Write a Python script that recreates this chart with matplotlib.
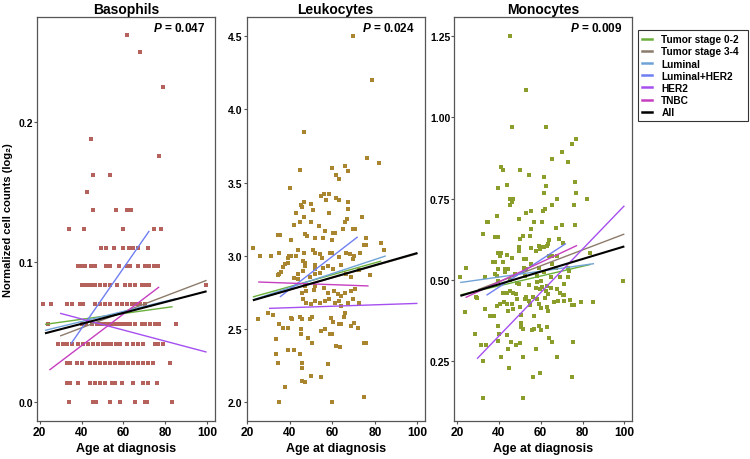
import numpy as np
import matplotlib
matplotlib.use('Agg')
import matplotlib.pyplot as plt

plt.rcParams['font.family'] = ['Liberation Sans', 'DejaVu Sans']
plt.rcParams['font.weight'] = 'bold'
plt.rcParams['mathtext.fontset'] = 'custom'
plt.rcParams['mathtext.it'] = 'Liberation Sans:italic:bold'
plt.rcParams['mathtext.rm'] = 'Liberation Sans:bold'

# ---- Basophils (discrete levels, ages per level) ----
baso_levels = [0.262, 0.250, 0.225, 0.188, 0.176, 0.162, 0.150, 0.137, 0.124,
               0.110, 0.097, 0.084, 0.070, 0.056, 0.042, 0.028, 0.014, 0.0]
baso_ages = [
    [61.5],
    [67.9],
    [79.0],
    [44.4],
    [77.0],
    [45.6, 53.6],
    [42.5],
    [45.5, 56.6, 61.5, 63.7],
    [34.2, 41.3, 59.6, 74.6, 77.7],
    [49.3, 51.7, 55.5, 59.6, 62.8, 64.7, 66.8, 71.8],
    [38.5, 40.1, 41.7, 44.5, 46.4, 51.7, 53.6, 58.0, 61.5, 63.1, 67.0, 70.2,
     72.3, 74.5, 76.6],
    [40.1, 41.7, 43.2, 44.9, 46.4, 48.8, 51.2, 53.6, 56.8, 60.7, 63.1, 65.5,
     68.7, 70.2, 72.3, 99.3],
    [21.8, 25.3, 33.2, 35.3, 39.3, 40.9, 46.4, 48.8, 51.2, 53.6, 57.0, 59.1,
     61.5, 63.9, 66.0, 67.9, 70.2],
    [24.2, 40.0, 42.0, 44.9, 47.2, 48.6, 50.0, 51.5, 53.0, 54.5, 56.0, 57.5,
     59.0, 60.5, 61.5, 63.1, 65.5, 68.7, 70.2, 72.6, 75.0, 77.0, 85.0],
    [29.0, 31.3, 33.0, 35.3, 38.5, 40.9, 43.2, 45.6, 48.0, 50.4, 52.3, 54.2,
     56.3, 58.3, 61.5, 64.4, 67.1, 69.4, 75.0, 76.6, 79.0],
    [33.0, 34.5, 37.7, 40.1, 44.0, 46.4, 48.8, 51.2, 53.6, 56.0, 58.3, 60.0,
     62.3, 64.7, 67.1, 69.4, 71.8, 74.2, 82.1],
    [33.0, 34.5, 38.5, 44.0, 46.4, 48.8, 51.2, 54.4, 56.0, 59.1, 64.7, 69.4,
     71.8, 75.8],
    [34.2, 45.6, 46.9, 53.6, 58.3, 65.5, 70.2, 71.3, 82.9],
]

# ---- Leukocytes ----
leuk_age = [69.5, 78.6, 46.6, 76.5, 81.7, 44.8, 59.7, 65.7, 67.5, 61.8, 62.9,
            40.0, 46.6, 45.1, 45.7, 49.8, 42.8, 50.8, 54.8, 56.0, 58.6, 56.8,
            61.8, 62.9, 67.5, 67.5, 58.6, 46.6, 44.6, 41.8, 50.1, 53.6, 66.0,
            66.9, 73.7,
            34.5, 35.3, 40.7, 47.3, 48.0, 51.6, 55.5, 56.5, 60.2, 61.0, 59.7,
            64.9, 69.5, 70.8, 75.8, 82.8, 75.0, 75.8, 22.8, 25.9, 31.1, 35.0,
            38.9, 39.6, 40.7, 42.8, 43.8, 46.6, 46.2, 46.9, 50.8, 51.6, 54.4,
            55.0, 59.1, 59.7, 63.0, 66.4, 68.5, 69.5, 70.3, 73.1, 84.3, 36.8,
            37.6, 39.2, 34.2, 35.0, 35.7, 42.0, 43.8, 43.8, 46.2, 46.9, 49.3,
            51.6, 51.9, 51.9, 54.0, 55.8, 57.8, 60.2, 64.1, 66.4, 68.8, 72.7,
            77.8, 46.9, 45.7, 47.8, 51.2, 52.0, 56.0, 57.9, 60.7, 62.5, 64.1,
            66.1, 68.8, 70.8, 46.2, 47.8, 50.1, 51.6, 54.0, 56.3, 58.6, 61.0,
            63.3, 64.1, 67.2, 69.5, 72.7,
            25.1, 29.8, 32.2, 35.0, 36.8, 38.9, 40.7, 41.0, 44.6, 45.7, 49.3,
            50.4, 45.1, 45.4, 48.5, 50.6, 54.8, 56.3, 59.4, 60.2, 63.3, 64.1,
            59.1, 59.7, 65.4, 66.1, 68.8, 70.0, 72.2, 75.0, 75.8, 61.8, 63.8,
            33.3, 33.7, 34.5, 38.9, 41.8, 44.6, 45.7, 45.7, 45.7, 46.9, 50.1,
            54.8, 57.9, 37.6, 35.0, 59.7, 74.7]
leuk_val = [4.50, 4.20, 3.842, 3.667, 3.637, 3.587, 3.598, 3.61, 3.576, 3.553,
            3.528, 3.462, 3.368, 3.35, 3.337, 3.352, 3.296, 3.311, 3.409, 3.423,
            3.425, 3.382, 3.393, 3.38, 3.368, 3.323, 3.296, 3.266, 3.234, 3.211,
            3.234, 3.204, 3.232, 3.25, 3.266,
            3.141, 3.141, 3.107, 3.148, 3.136, 3.12, 3.123, 3.168, 3.154, 3.154,
            3.107, 3.186, 3.186, 3.186, 3.125, 3.09, 3.072, 3.072, 3.057, 2.999,
            2.999, 3.018, 2.988, 3.0, 3.0, 3.0, 3.04, 3.018, 2.965, 2.954,
            3.04, 3.023, 3.011, 2.988, 3.018, 3.018, 2.993, 3.023, 3.016, 2.977,
            3.0, 3.023, 3.04, 2.927, 2.947, 2.954, 2.867, 2.879, 2.893, 2.851,
            2.874, 2.845, 2.897, 2.931, 2.856, 2.908, 2.936, 2.874, 2.886, 2.92,
            2.931, 2.908, 2.936, 2.874, 2.859, 2.902, 2.87, 2.795, 2.749, 2.76,
            2.765, 2.795, 2.783, 2.749, 2.76, 2.738, 2.726, 2.749, 2.76, 2.772,
            2.704, 2.681, 2.669, 2.692, 2.681, 2.692, 2.708, 2.676, 2.692, 2.658,
            2.681, 2.704, 2.676,
            2.567, 2.613, 2.594, 2.538, 2.51, 2.51, 2.579, 2.567, 2.585, 2.567,
            2.567, 2.585, 2.499, 2.464, 2.442, 2.408, 2.487, 2.499, 2.579, 2.548,
            2.533, 2.533, 2.464, 2.464, 2.585, 2.613, 2.521, 2.544, 2.51, 2.408,
            2.408, 2.385, 2.38, 2.435, 2.328, 2.271, 2.355, 2.355, 2.328, 2.271,
            2.237, 2.146, 2.139, 2.18, 2.176, 2.264, 2.105, 2.002, 2.002, 2.036]

# ---- Monocytes ----
mono_age = [45.1, 53.2, 46.2, 62.7, 77.0, 75.0, 70.2, 65.6, 72.9, 40.9, 41.8,
            50.3, 54.3, 61.6, 43.8, 39.8, 62.4, 76.2, 61.6, 77.0, 45.4, 47.0,
            45.4, 46.2, 67.8, 82.3, 65.6, 75.8, 53.0, 55.4, 61.1, 62.1, 38.9,
            49.5, 34.1, 34.9, 56.7, 60.5,
            67.2, 70.0, 76.2, 55.6, 32.5, 38.2, 39.8, 50.3, 51.6, 54.8, 64.0,
            63.7, 68.9, 70.5, 60.8, 61.6, 62.9, 59.2, 59.7, 55.4, 57.6, 49.5,
            49.5, 39.8, 40.6, 43.8, 46.2, 37.3, 38.2, 42.2, 52.0, 53.2, 64.0,
            65.6, 67.8, 55.4, 65.6, 67.2, 83.4, 24.4, 39.8, 43.1, 44.6, 52.2,
            53.2, 59.2, 61.6, 72.9, 73.7, 38.2, 39.0, 43.1, 47.9, 52.7, 58.3,
            64.9, 69.4, 72.9, 21.2, 33.3, 99.5, 39.8, 45.4, 48.6, 49.5, 54.3,
            58.3, 60.3, 60.8, 63.2, 64.9, 67.8, 69.4, 70.5, 71.3, 71.3, 42.2,
            43.8, 45.1, 46.7, 48.3, 57.6, 59.7, 62.4, 63.7, 53.2, 56.3, 29.2,
            29.7, 23.6, 33.6, 35.7, 37.8, 38.9, 40.6, 42.7, 43.8, 44.3, 46.2,
            47.0, 48.6, 50.3, 50.8, 50.8, 50.8, 51.4, 52.7, 54.3, 55.1, 56.7,
            58.3, 59.2, 60.0, 62.1, 63.2, 63.7, 66.5, 68.1, 71.0, 74.2, 75.0,
            75.7, 79.4, 85.0, 39.4, 28.4, 31.7, 33.8, 43.8, 40.1, 39.8, 45.9,
            48.3, 50.3, 57.6, 63.2, 64.0, 65.6, 75.3, 55.9, 56.7, 59.2, 60.0,
            44.3, 40.9, 32.5, 51.4, 67.8, 45.0, 59.5, 56.4, 75.0, 32.5, 51.4,
            41.0]
mono_val = [1.251, 1.084, 0.971, 0.971, 0.933, 0.918, 0.894, 0.872, 0.863,
            0.848, 0.839, 0.839, 0.823, 0.815, 0.792, 0.781, 0.789, 0.80, 0.766,
            0.766, 0.748, 0.748, 0.731, 0.738, 0.748, 0.748, 0.731, 0.731,
            0.705, 0.711, 0.711, 0.718, 0.695, 0.687, 0.679, 0.679, 0.679,
            0.679,
            0.659, 0.669, 0.668, 0.656, 0.641, 0.631, 0.631, 0.625, 0.634,
            0.636, 0.623, 0.61, 0.625, 0.615, 0.60, 0.602, 0.605, 0.605, 0.595,
            0.597, 0.589, 0.60, 0.589, 0.584, 0.574, 0.576, 0.566, 0.556, 0.556,
            0.556, 0.564, 0.564, 0.574, 0.574, 0.574, 0.548, 0.548, 0.538,
            0.584, 0.538, 0.535, 0.535, 0.535, 0.538, 0.533, 0.538, 0.523,
            0.538, 0.528, 0.518, 0.512, 0.523, 0.518, 0.512, 0.512, 0.508,
            0.508, 0.508, 0.508, 0.509, 0.497, 0.497, 0.50, 0.492, 0.487, 0.484,
            0.494, 0.497, 0.477, 0.482, 0.474, 0.471, 0.459, 0.453, 0.453,
            0.487, 0.461, 0.461, 0.466, 0.459, 0.456, 0.474, 0.471, 0.466,
            0.458, 0.446, 0.446, 0.446,
            0.443, 0.402, 0.412, 0.389, 0.389, 0.42, 0.425, 0.432, 0.425, 0.405,
            0.425, 0.41, 0.441, 0.418, 0.392, 0.369, 0.354, 0.348, 0.441, 0.436,
            0.422, 0.389, 0.441, 0.425, 0.415, 0.443, 0.418, 0.405, 0.431,
            0.436, 0.436, 0.439, 0.422, 0.422, 0.431, 0.432, 0.359, 0.333,
            0.299, 0.299, 0.33, 0.333, 0.312, 0.309, 0.299, 0.307, 0.287,
            0.354, 0.323, 0.309, 0.309, 0.345, 0.348, 0.357, 0.346, 0.287,
            0.264, 0.251, 0.264, 0.264, 0.228, 0.213, 0.203, 0.203, 0.138,
            0.138, 0.582]

# ---- regression lines: (age start, age end, value start, value end) ----
groups = ['Tumor stage 0-2', 'Tumor stage 3-4', 'Luminal', 'Luminal+HER2',
          'HER2', 'TNBC', 'All']
group_colors = ['#6aaf3a', '#8c7b6a', '#6fa3d8', '#6f7ff2', '#a64ff0',
                '#c63fc0', '#000000']

baso_lines = [(22.6, 83.4, 0.0557, 0.0683), (29.8, 99.6, 0.0474, 0.0871),
              (22.6, 85.0, 0.0514, 0.0740), (35.0, 72.3, 0.0419, 0.1224),
              (29.8, 99.6, 0.0636, 0.0359), (24.7, 77.0, 0.0231, 0.0824),
              (22.6, 99.6, 0.0493, 0.0793)]
leuk_lines = [(22.6, 83.0, 2.720, 2.965), (30.0, 100.0, 2.728, 3.015),
              (22.6, 85.1, 2.700, 3.000), (35.3, 71.9, 2.720, 3.130),
              (30.2, 100.0, 2.642, 2.676), (25.1, 77.0, 2.822, 2.795),
              (22.6, 100.0, 2.697, 3.020)]
mono_lines = [(21.6, 84.0, 0.454, 0.548), (30.0, 100.0, 0.470, 0.641),
              (21.5, 85.5, 0.492, 0.550), (34.1, 72.1, 0.453, 0.612),
              (29.6, 100.0, 0.258, 0.728), (24.1, 77.4, 0.446, 0.606),
              (21.6, 100.0, 0.451, 0.603)]

baso_x, baso_y = [], []
for lev, ages in zip(baso_levels, baso_ages):
    for a in ages:
        baso_x.append(a)
        baso_y.append(lev)

panels = [
    dict(title='Basophils', p='0.047', x=baso_x, y=baso_y, lines=baso_lines,
         color='#b4625b', left=37, xlim=(18.8, 103.6),
         ylim=(-0.0129, 0.275), yticks=[0.0, 0.1, 0.2],
         yticklabels=['0.0', '0.1', '0.2']),
    dict(title='Leukocytes', p='0.024', x=leuk_age, y=leuk_val,
         lines=leuk_lines, color='#a8852e', left=246.7, xlim=(19.7, 103.4),
         ylim=(1.877, 4.63), yticks=[2.0, 2.5, 3.0, 3.5, 4.0, 4.5],
         yticklabels=['2.0', '2.5', '3.0', '3.5', '4.0', '4.5']),
    dict(title='Monocytes', p='0.009', x=mono_age, y=mono_val,
         lines=mono_lines, color='#8b9d2b', left=454.3, xlim=(18.7, 103.8),
         ylim=(0.068, 1.308), yticks=[0.25, 0.5, 0.75, 1.0, 1.25],
         yticklabels=['0.25', '0.50', '0.75', '1.00', '1.25']),
]

W, H = 750, 460
fig = plt.figure(figsize=(7.5, 4.6), dpi=100)

for pn in panels:
    ax = fig.add_axes([pn['left'] / W, 1 - 421.5 / H, 178 / W, 403.5 / H])
    ax.scatter(pn['x'], pn['y'], s=5.5, marker='s', color=pn['color'],
               linewidths=0, zorder=2)
    for (x0, x1, y0, y1), col in zip(pn['lines'], group_colors):
        lw = 1.5 if col == '#000000' else 1.0
        ax.plot([x0, x1], [y0, y1], color=col, lw=lw, zorder=3,
                solid_capstyle='butt')
    ax.set_xlim(pn['xlim'])
    ax.set_ylim(pn['ylim'])
    ax.set_xticks([20, 40, 60, 80, 100])
    ax.set_yticks(pn['yticks'])
    ax.set_yticklabels(pn['yticklabels'])
    for sp in ax.spines.values():
        sp.set_color('#555555')
        sp.set_linewidth(0.9)
    ax.tick_params(axis='x', labelsize=8.6, length=2.5, width=0.8,
                   color='#555555', pad=1.5)
    ax.tick_params(axis='y', labelsize=7.5, length=2, width=0.8,
                   color='#555555', pad=1)
    for lab in ax.get_xticklabels() + ax.get_yticklabels():
        lab.set_fontweight('bold')
    ax.set_xlabel('Age at diagnosis', fontsize=9, fontweight='bold',
                  labelpad=3)
    ax.set_title(pn['title'], fontsize=10, fontweight='bold', pad=3)
    ax.text(0.945, 0.975, r'$P$ = ' + pn['p'], transform=ax.transAxes,
            ha='right', va='center', fontsize=8.5, fontweight='bold')

fig.text(8 / W, 1 - 220 / H, 'Normalized cell counts (log\u2082)',
         rotation=90, ha='center', va='center', fontsize=8,
         fontweight='bold')

handles = [plt.Line2D([], [], color=c, lw=1.8) for c in group_colors]
leg = fig.legend(handles, groups, loc='upper left',
                 bbox_to_anchor=(638 / W, 1 - 121 / H, 110 / W, 90 / H),
                 mode='expand', borderaxespad=0, frameon=True,
                 fancybox=False, edgecolor='black', handlelength=1.0,
                 handletextpad=0.9, labelspacing=0.22, borderpad=0.4,
                 prop={'weight': 'bold', 'size': 7.3})
leg.get_frame().set_linewidth(0.8)

fig.savefig('out.png', dpi=100)
